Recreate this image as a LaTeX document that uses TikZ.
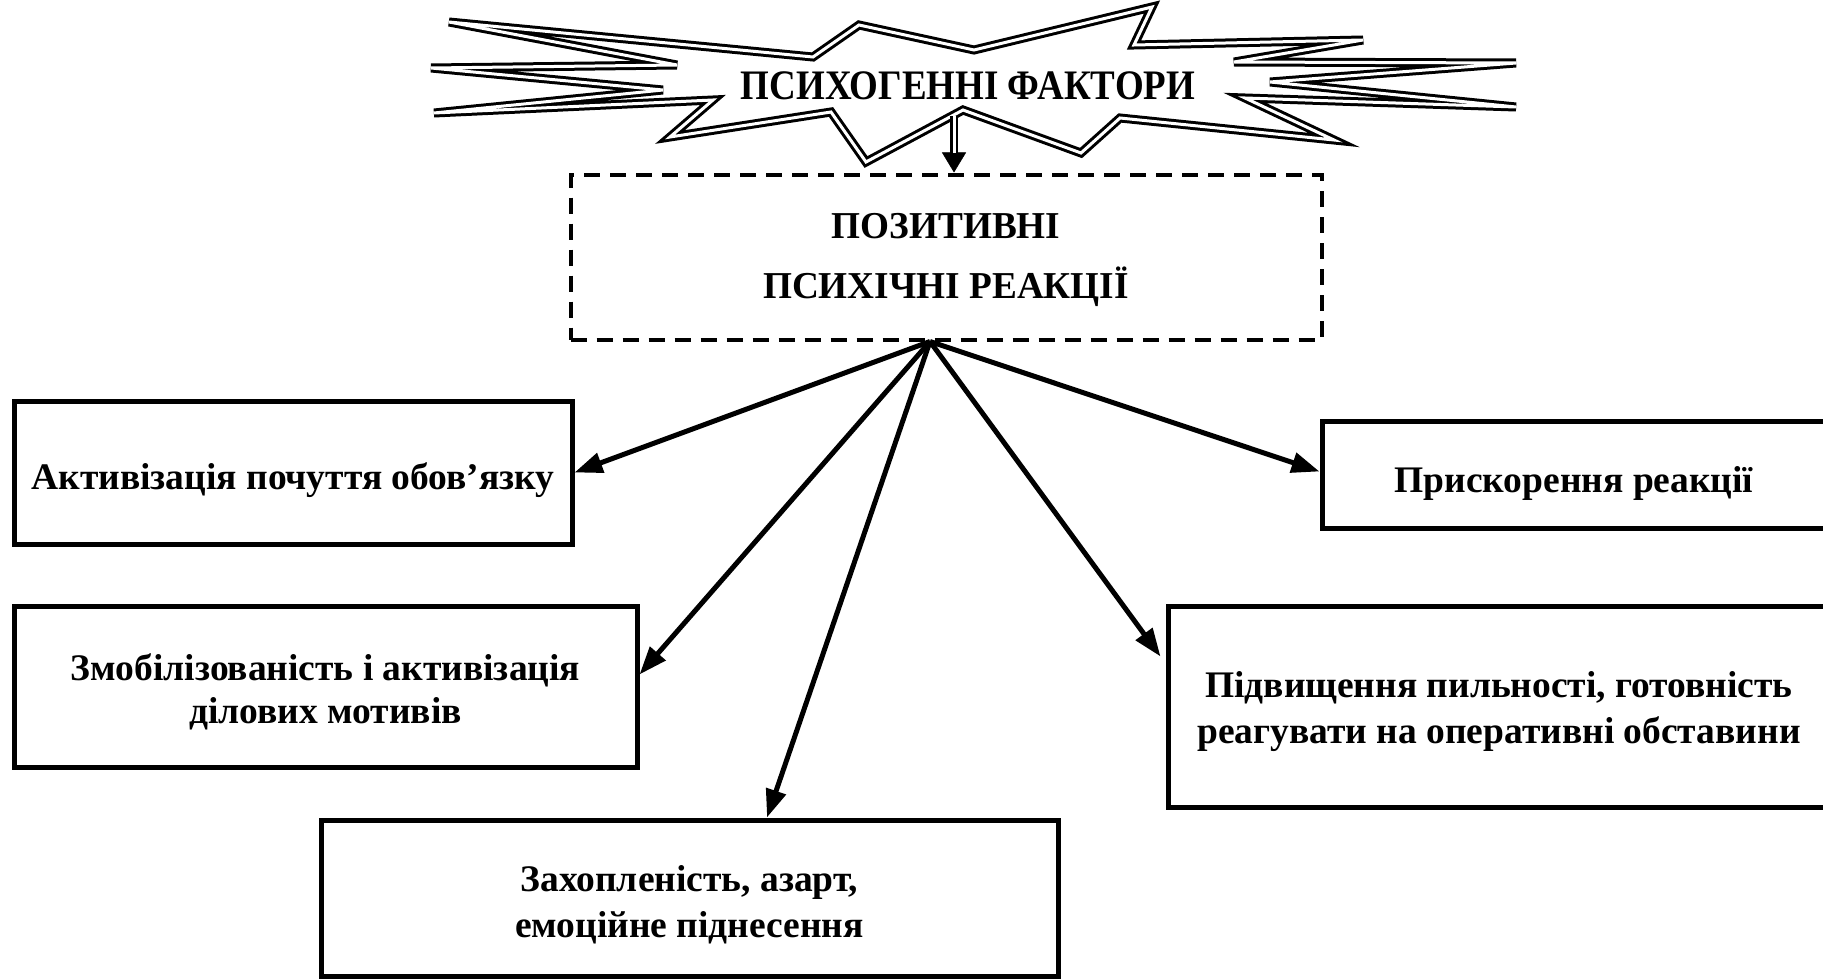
\documentclass[tikz,border=0pt]{standalone}
\usepackage{fontspec}
\usepackage{graphicx}
\setmainfont{Liberation Serif}
\usetikzlibrary{arrows.meta,calc}
\newcommand{\narrow}[2]{\scalebox{#1}[1]{#2}}
\begin{document}
\begin{tikzpicture}[x=1pt,y=-1pt,
  box/.style={draw, line width=5pt, rectangle, inner sep=0pt},
  txt/.style={align=center, inner sep=0pt, font=\bfseries\fontsize{37.5}{46}\selectfont},
  dbox/.style={draw, line width=4pt, dash pattern=on 16pt off 10pt, rectangle, inner sep=0pt},
  burst/.style={draw, fill=white, double, line width=3pt, double distance=3pt, line join=miter},
  link/.style={line width=5pt, -{Triangle[length=28pt,width=20pt]}}
]
\useasboundingbox (0,0) rectangle (1823,979);

% explosion outline
\draw[burst] (449,22) -- (813,57) -- (859,25) -- (974,50) -- (1152,7) -- (1134,45)
  -- (1363,40) -- (1234,62) -- (1516,63) -- (1270,82) -- (1516,107) -- (1245,98)
  -- (1334,140) -- (1120,118) -- (1081,153) -- (963,110) -- (866,162) -- (831,112)
  -- (670,137) -- (713,100) -- (434,113) -- (663,90) -- (431,68) -- (677,65) -- cycle;
\node[font=\bfseries\fontsize{42}{50}\selectfont] (star) at (968,86)
  {\narrow{0.88}{ПСИХОГЕННІ ФАКТОРИ}};

% central dashed box
\node[dbox, minimum width=751pt, minimum height=165pt] (pos) at (946,257) {};
\node[txt, font=\bfseries\fontsize{38}{60}\selectfont] (tpos) at ([yshift=-3pt]pos.center)
  {\narrow{0.98}{ПОЗИТИВНІ}\\\narrow{0.98}{ПСИХІЧНІ РЕАКЦІЇ}};

% outcome boxes
\node[box, minimum width=558pt, minimum height=143pt] (b1) at (293,472.5) {};
\node[txt] (t1) at ([yshift=-8pt]b1.center) {Активізація почуття обов’язку};
\node[box, minimum width=623pt, minimum height=161pt] (b2) at (325.5,686.5) {};
\node[txt, font=\bfseries\fontsize{37.5}{43}\selectfont] (t2) at ([yshift=-5pt]b2.center)
  {Змобілізованість і активізація\\ділових мотивів};
\node[box, minimum width=737pt, minimum height=156pt] (b3) at (689.5,898) {};
\node[txt] (t3) at ([yshift=-7pt]b3.center) {Захопленість, азарт,\\емоційне піднесення};
\node[box, minimum width=504pt, minimum height=107pt] (b4) at (1574,474.5) {};
\node[txt] (t4) at ([yshift=-9pt]b4.center) {Прискорення реакції};
\node[box, minimum width=662pt, minimum height=201pt] (b5) at (1499,706.5) {};
\node[txt] (t5) at ([yshift=-5pt]b5.center)
  {Підвищення пильності, готовність\\реагувати на оперативні обставини};

% arrow from the burst to the dashed box
\coordinate (sv) at (954,116);
\draw[line width=0.5pt, -{Triangle[length=20pt,width=24pt]}] (sv) -- (sv |- pos.north);
\draw[double, line width=2.5pt, double distance=3pt, shorten >=19pt] (sv) -- (sv |- pos.north);

% fan of arrows
\coordinate (o) at ([xshift=-16pt]pos.south);
\draw[link] (o) -- (b1.east);
\draw[link] (o) -- ([yshift=12pt]b2.east);
\draw[link] (o) -- ([xshift=77.5pt]b3.north);
\draw[link] (o) -- ([yshift=3pt]b4.west);
\draw[link] (o) -- ([xshift=-5pt,yshift=50pt]b5.west);
\end{tikzpicture}
\end{document}
